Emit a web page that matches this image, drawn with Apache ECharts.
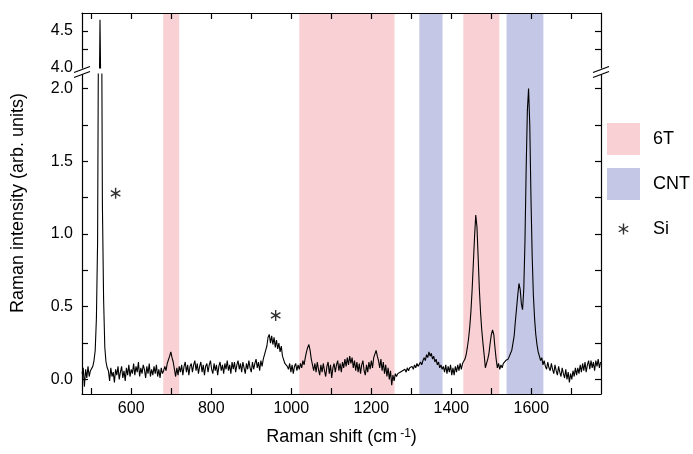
<!DOCTYPE html>
<html><head><meta charset="utf-8">
<script src="https://cdn.jsdelivr.net/npm/echarts@6/dist/echarts.min.js"></script>
<style>html,body{margin:0;padding:0;background:#fff}#chart{width:693px;height:454px}</style>
</head><body><div id="chart"></div>
<script>
// ---- data ----
const ramanShift = [
  477,480,483,486,489,492,495,498,501,504,
  507,510,513,516,519,522,525,528,531,534,537,540,
  543,546,549,552,555,558,561,564,567,570,
  573,576,579,582,585,588,591,594,597,600,
  603,606,609,612,615,618,621,624,627,630,
  633,636,639,642,645,648,651,654,657,660,
  663,666,669,672,675,678,681,684,687,690,
  693,696,699,702,705,708,711,714,717,720,
  723,726,729,732,735,738,741,744,747,750,
  753,756,759,762,765,768,771,774,777,780,
  783,786,789,792,795,798,801,804,807,810,
  813,816,819,822,825,828,831,834,837,840,
  843,846,849,852,855,858,861,864,867,870,
  873,876,879,882,885,888,891,894,897,900,
  903,906,909,912,915,918,921,924,927,930,
  933,936,939,942,945,948,951,954,957,960,
  963,966,969,972,975,978,981,984,987,990,
  993,996,999,1002,1005,1008,1011,1014,1017,1020,
  1023,1026,1029,1032,1035,1038,1041,1044,1047,1050,
  1053,1056,1059,1062,1065,1068,1071,1074,1077,1080,
  1083,1086,1089,1092,1095,1098,1101,1104,1107,1110,
  1113,1116,1119,1122,1125,1128,1131,1134,1137,1140,
  1143,1146,1149,1152,1155,1158,1161,1164,1167,1170,
  1173,1176,1179,1182,1185,1188,1191,1194,1197,1200,
  1203,1206,1209,1212,1215,1218,1221,1224,1227,1230,
  1233,1236,1239,1242,1245,1248,1251,1254,1257,1260,
  1263,1266,1269,1272,1275,1278,1281,1284,1287,1290,
  1293,1296,1299,1302,1305,1308,1311,1314,1317,1320,
  1323,1326,1329,1332,1335,1338,1341,1344,1347,1350,
  1353,1356,1359,1362,1365,1368,1371,1374,1377,1380,
  1383,1386,1389,1392,1395,1398,1401,1404,1407,1410,
  1413,1416,1419,1422,1425,1428,1431,1434,1437,1440,
  1443,1446,1449,1452,1455,1458,1461,1464,1467,1470,
  1473,1476,1479,1482,1485,1488,1491,1494,1497,1500,
  1503,1506,1509,1512,1515,1518,1521,1524,1527,1530,
  1533,1536,1539,1542,1545,1548,1551,1554,1557,1560,
  1563,1566,1569,1572,1575,1578,1581,1584,1587,1590,
  1593,1596,1599,1602,1605,1608,1611,1614,1617,1620,
  1623,1626,1629,1632,1635,1638,1641,1644,1647,1650,
  1653,1656,1659,1662,1665,1668,1671,1674,1677,1680,
  1683,1686,1689,1692,1695,1698,1701,1704,1707,1710,
  1713,1716,1719,1722,1725,1728,1731,1734,1737,1740,
  1743,1746,1749,1752,1755,1758,1761,1764,1767,1770,
  1773
];
const intensity = [
  0.04,0.08,-0.05,0.07,0.01,0.09,0.02,0.06,0.05,0.09,
  0.13,0.20,0.42,0.95,3.0,4.65,3.2,1.2,0.55,0.22,0.12,0.08,
  0.06,-0.01,0.08,0.02,0.05,-0.02,0.07,0.03,0.09,0.00,
  0.05,0.09,0.01,0.06,-0.01,0.08,0.03,0.10,0.02,0.07,
  0.04,0.11,0.03,0.09,0.05,0.12,0.02,0.08,0.04,0.10,
  0.07,0.01,0.09,0.04,0.11,0.02,0.07,0.03,0.09,0.04,
  0.10,0.02,0.07,0.01,0.08,0.04,0.06,0.09,0.06,0.11,
  0.12,0.16,0.19,0.15,0.12,0.07,0.02,0.08,0.03,0.09,
  0.05,0.10,0.03,0.09,0.12,0.05,0.10,0.03,0.09,0.11,
  0.05,0.10,0.13,0.06,0.11,0.04,0.09,0.12,0.05,0.10,
  0.03,0.09,0.11,0.05,0.10,0.13,0.07,0.04,0.11,0.06,
  0.10,0.03,0.09,0.12,0.06,0.10,0.04,0.11,0.07,0.13,
  0.06,0.10,0.04,0.12,0.07,0.12,0.05,0.10,0.13,0.07,
  0.11,0.05,0.12,0.08,0.04,0.11,0.07,0.13,0.08,0.05,
  0.12,0.07,0.11,0.14,0.08,0.12,0.06,0.13,0.09,0.14,
  0.15,0.20,0.23,0.29,0.31,0.25,0.30,0.24,0.29,0.22,
  0.27,0.21,0.25,0.19,0.23,0.16,0.15,0.11,0.12,0.09,
  0.07,0.11,0.05,0.10,0.04,0.09,0.11,0.06,0.10,0.07,
  0.11,0.08,0.13,0.10,0.15,0.19,0.22,0.24,0.20,0.14,
  0.10,0.06,0.11,0.05,0.12,0.07,0.03,0.10,0.05,0.11,
  0.06,0.02,0.09,0.12,0.04,0.10,0.01,0.08,0.11,0.05,
  0.10,0.13,0.06,0.11,0.05,0.12,0.08,0.14,0.09,0.15,
  0.10,0.16,0.11,0.15,0.08,0.13,0.06,0.12,0.05,0.11,
  0.04,0.10,0.13,0.06,0.03,0.10,0.05,0.12,0.07,0.13,
  0.08,0.15,0.15,0.20,0.16,0.13,0.08,0.14,0.06,0.12,
  0.04,0.10,0.02,0.08,0.00,0.06,-0.04,0.03,-0.01,0.04,
  0.02,0.04,0.03,0.05,0.04,0.06,0.05,0.07,0.05,0.08,
  0.06,0.08,0.07,0.09,0.07,0.10,0.08,0.11,0.09,0.10,
  0.12,0.10,0.13,0.15,0.13,0.17,0.15,0.19,0.16,0.18,
  0.14,0.16,0.12,0.14,0.10,0.12,0.08,0.10,0.07,0.09,
  0.05,0.10,0.04,0.09,0.05,0.10,0.03,0.08,0.03,0.09,
  0.05,0.10,0.06,0.11,0.07,0.11,0.12,0.14,0.17,0.22,
  0.28,0.36,0.47,0.62,0.80,0.98,1.13,1.05,0.84,0.62,
  0.46,0.34,0.25,0.17,0.08,0.11,0.14,0.18,0.25,0.31,
  0.34,0.31,0.22,0.14,0.08,0.11,0.07,0.10,0.08,0.11,
  0.10,0.13,0.14,0.14,0.15,0.18,0.20,0.25,0.30,0.40,
  0.49,0.58,0.66,0.62,0.52,0.48,0.62,0.95,1.45,1.85,
  2.00,1.75,1.25,0.85,0.58,0.42,0.31,0.24,0.19,0.16,
  0.13,0.15,0.10,0.13,0.09,0.07,0.12,0.08,0.06,0.11,
  0.07,0.04,0.10,0.06,0.03,0.09,0.05,0.02,0.08,0.04,
  0.01,0.07,0.00,0.05,-0.02,0.04,0.00,0.06,0.02,0.08,
  0.03,0.08,0.04,0.10,0.05,0.11,0.06,0.12,0.05,0.10,
  0.13,0.07,0.13,0.08,0.12,0.06,0.13,0.09,0.14,0.08,
  0.12
];
const bands6T = [[680, 720], [1020, 1258], [1430, 1520]];
const bandsCNT = [[1320, 1378], [1538, 1630]];
const siPeakMarks = [[561, 1.28], [961, 0.44]];
const xTickValues = [500, 600, 700, 800, 900, 1000, 1100, 1200, 1300, 1400, 1500, 1600, 1700];
const xLabelValues = [600, 800, 1000, 1200, 1400, 1600];
const yLowTickValues = [0, 0.25, 0.5, 0.75, 1.0, 1.25, 1.5, 1.75, 2.0];
const yLowLabelValues = [0, 0.5, 1.0, 1.5, 2.0];
const yHighTickValues = [4.25, 4.5];
const yHighLabelValues = [4.0, 4.5];
const legendNames = ['6T', 'CNT', 'Si'];

// ---- styling / layout ----
const FONT = '"Liberation Sans", Arial, Helvetica, sans-serif';
const PINK = '#f9d0d4';
const BLUE = '#c4c7e5';
const GL = 82, GR = 92;
const LOW = {top: 74, bottom: 60};
const HIGH = {top: 13, height: 55};
const X_MIN = 477, X_MAX = 1774;

const spectrum = ramanShift.map((x, i) => [x, intensity[i]]);
const ASTERISK = 'path://M-16,-16L-15.99,-16L-16,-15.99Z M16,16L15.99,16L16,15.99Z ' +
  'M-0.7,-5.5L0.7,-5.5L0.7,5.5L-0.7,5.5Z ' +
  'M4.413,-3.356L5.113,-2.144L-4.413,3.356L-5.113,2.144Z ' +
  'M-5.113,-2.144L-4.413,-3.356L5.113,2.144L4.413,3.356Z';

const lineStyleAx = {color: '#000', width: 1.2};
function xAx(gridIndex, position, showLabels) {
  return {
    type: 'value', gridIndex, position, min: X_MIN, max: X_MAX, z: 5,
    axisLine: {show: true, onZero: false, lineStyle: lineStyleAx},
    axisTick: {show: true, inside: true, length: 6, lineStyle: lineStyleAx, customValues: xTickValues},
    axisLabel: {show: showLabels, customValues: xLabelValues, fontSize: 16, color: '#000', fontFamily: FONT, margin: 7,
      formatter: v => String(v)},
    splitLine: {show: false}
  };
}
function yAx(gridIndex, position, min, max, ticks, labels, showLabels) {
  return {
    type: 'value', gridIndex, position, min, max, z: 5,
    axisLine: {show: true, onZero: false, lineStyle: lineStyleAx},
    axisTick: {show: true, inside: true, length: 6, lineStyle: lineStyleAx, customValues: ticks},
    axisLabel: {show: showLabels, customValues: labels, fontSize: 16, color: '#000', fontFamily: FONT, margin: 9,
      formatter: v => Number(v).toFixed(1)},
    splitLine: {show: false}
  };
}

const chart = echarts.init(document.getElementById('chart'), null, {renderer: 'canvas'});

const breakCy = 71;
function breakMarks(x) {
  return [
    {type: 'polygon', z: 100, shape: {points: [[x - 8, breakCy + 1.5], [x + 8, breakCy - 4.5], [x + 8, breakCy + 0.5], [x - 8, breakCy + 6.5]]},
      style: {fill: '#fff'}},
    {type: 'line', z: 101, shape: {x1: x - 8, y1: breakCy + 1.5, x2: x + 8, y2: breakCy - 4.5}, style: {stroke: '#000', lineWidth: 1.2}},
    {type: 'line', z: 101, shape: {x1: x - 8, y1: breakCy + 6.5, x2: x + 8, y2: breakCy + 0.5}, style: {stroke: '#000', lineWidth: 1.2}}
  ];
}

function bandRender(params, api) {
  const a = api.coord([api.value(0), 1]);
  const b = api.coord([api.value(1), 0]);
  return {type: 'rect', shape: {x: a[0], y: a[1], width: b[0] - a[0], height: b[1] - a[1]},
    style: {fill: api.visual('color')}};
}

const option = {
  animation: false,
  backgroundColor: '#fff',
  textStyle: {fontFamily: FONT, color: '#000'},
  grid: [
    {left: GL, right: GR, top: LOW.top, bottom: LOW.bottom, containLabel: false, outerBoundsMode: 'none'},
    {left: GL, right: GR, top: HIGH.top, height: HIGH.height, containLabel: false, outerBoundsMode: 'none'},
    {left: GL, right: GR, top: HIGH.top, bottom: LOW.bottom, containLabel: false, outerBoundsMode: 'none'}
  ],
  xAxis: [
    Object.assign(xAx(0, 'bottom', true), {
      name: 'Raman shift (cm{sup|-1})', nameLocation: 'middle', nameGap: 34, nameMoveOverlap: false,
      nameTextStyle: {fontSize: 18, color: '#000', fontFamily: FONT,
        rich: {sup: {fontSize: 12, verticalAlign: 'top', color: '#000', fontFamily: FONT, padding: [0, 0, 0, 3]}}}
    }),
    xAx(1, 'top', false),
    {type: 'value', gridIndex: 2, min: X_MIN, max: X_MAX, show: false}
  ],
  yAxis: [
    yAx(0, 'left', -0.1, 2.1, yLowTickValues, yLowLabelValues, true),
    yAx(0, 'right', -0.1, 2.1, yLowTickValues, yLowLabelValues, false),
    yAx(1, 'left', 4.0, 4.74, yHighTickValues, yHighLabelValues, true),
    yAx(1, 'right', 4.0, 4.74, yHighTickValues, yHighLabelValues, false),
    {type: 'value', gridIndex: 2, min: 0, max: 1, show: false}
  ],
  legend: {
    orient: 'vertical', left: 607, top: 123, padding: 0, itemGap: 13,
    itemWidth: 33, itemHeight: 32, selectedMode: false,
    textStyle: {fontSize: 18, color: '#000', fontFamily: FONT, padding: [0, 0, 0, 8]},
    data: [
      {name: legendNames[0], icon: 'rect', itemStyle: {color: PINK, borderWidth: 0}},
      {name: legendNames[1], icon: 'rect', itemStyle: {color: BLUE, borderWidth: 0}},
      {name: legendNames[2], icon: ASTERISK, itemStyle: {color: '#000', borderWidth: 0}}
    ]
  },
  series: [
    {name: legendNames[0], type: 'custom', xAxisIndex: 2, yAxisIndex: 4, z: 1, silent: true,
      itemStyle: {color: PINK}, encode: {x: [0, 1]}, renderItem: bandRender, data: bands6T},
    {name: legendNames[1], type: 'custom', xAxisIndex: 2, yAxisIndex: 4, z: 1, silent: true,
      itemStyle: {color: BLUE}, encode: {x: [0, 1]}, renderItem: bandRender, data: bandsCNT},
    {name: 'spectrum', type: 'line', xAxisIndex: 0, yAxisIndex: 0, z: 3, showSymbol: false, clip: true,
      lineStyle: {color: '#000', width: 1.1}, itemStyle: {color: '#000'}, data: spectrum},
    {name: 'spectrum-top', type: 'line', xAxisIndex: 1, yAxisIndex: 2, z: 3, showSymbol: false, clip: true,
      lineStyle: {color: '#000', width: 1.1}, itemStyle: {color: '#000'}, data: spectrum},
    {name: legendNames[2], type: 'scatter', xAxisIndex: 0, yAxisIndex: 0, z: 4, symbol: ASTERISK,
      symbolSize: 32, symbolKeepAspect: true, itemStyle: {color: '#000'}, data: siPeakMarks}
  ],
  graphic: [
    {type: 'text', x: 18, y: 203, rotation: Math.PI / 2, z: 100,
      style: {text: 'Raman intensity (arb. units)', font: '18px ' + FONT, fill: '#000', align: 'center', verticalAlign: 'middle'}},
    ...breakMarks(GL),
    ...breakMarks(693 - GR)
  ]
};
chart.setOption(option);
</script>
</body></html>
